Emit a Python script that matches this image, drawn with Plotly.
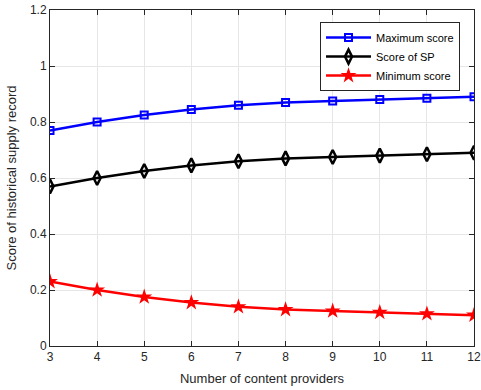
import plotly.graph_objects as go

providers = [3, 4, 5, 6, 7, 8, 9, 10, 11, 12]
maximum_score = [0.77, 0.80, 0.825, 0.845, 0.86, 0.87, 0.875, 0.88, 0.885, 0.89]
sp_score = [0.57, 0.60, 0.625, 0.645, 0.66, 0.67, 0.675, 0.68, 0.685, 0.69]
minimum_score = [0.23, 0.20, 0.175, 0.155, 0.14, 0.13, 0.125, 0.12, 0.115, 0.11]

font_family = "Liberation Sans, Arial, sans-serif"

fig = go.Figure()
fig.add_trace(go.Scatter(
    x=providers, y=maximum_score, name="Maximum score", mode="lines+markers",
    line=dict(color="#0000ff", width=2.5),
    marker=dict(symbol="square-open", size=7, color="#0000ff", line=dict(width=2)),
))
fig.add_trace(go.Scatter(
    x=providers, y=sp_score, name="Score of SP", mode="lines+markers",
    line=dict(color="#000000", width=2.5),
    marker=dict(symbol="diamond-tall-open", size=10, color="#000000", line=dict(width=2.5)),
))
fig.add_trace(go.Scatter(
    x=providers, y=minimum_score, name="Minimum score", mode="lines+markers",
    line=dict(color="#ff0000", width=2.5),
    marker=dict(symbol="star", size=12, color="#ff0000", line=dict(width=0)),
))

axis_common = dict(
    showline=True, linecolor="#262626", linewidth=1, mirror="allticks",
    ticks="inside", ticklen=5, tickcolor="#262626",
    showgrid=True, gridcolor="#e6e6e6", gridwidth=1,
    zeroline=False, automargin=False,
    tickfont=dict(family=font_family, size=12, color="#262626"),
)

fig.update_layout(
    width=481, height=390,
    margin=dict(l=50, r=7, t=10, b=44),
    paper_bgcolor="white", plot_bgcolor="white",
    font=dict(family=font_family, color="#262626"),
    showlegend=True,
    legend=dict(
        x=0.967, y=0.964, xanchor="right", yanchor="top",
        bgcolor="white", bordercolor="#262626", borderwidth=1,
        font=dict(family=font_family, size=11, color="#000000"),
        tracegroupgap=0, itemwidth=45,
    ),
    xaxis=dict(
        range=[3, 12], tickvals=providers,
        title=dict(text="Number of content providers", font=dict(size=13), standoff=10),
        **axis_common,
    ),
    yaxis=dict(
        range=[0, 1.2], tickvals=[0, 0.2, 0.4, 0.6, 0.8, 1, 1.2],
        ticktext=["0", "0.2", "0.4", "0.6", "0.8", "1", "1.2"],
        title=dict(text="Score of historical supply record", font=dict(size=13), standoff=10),
        **axis_common,
    ),
)

fig.write_html("out.html")
